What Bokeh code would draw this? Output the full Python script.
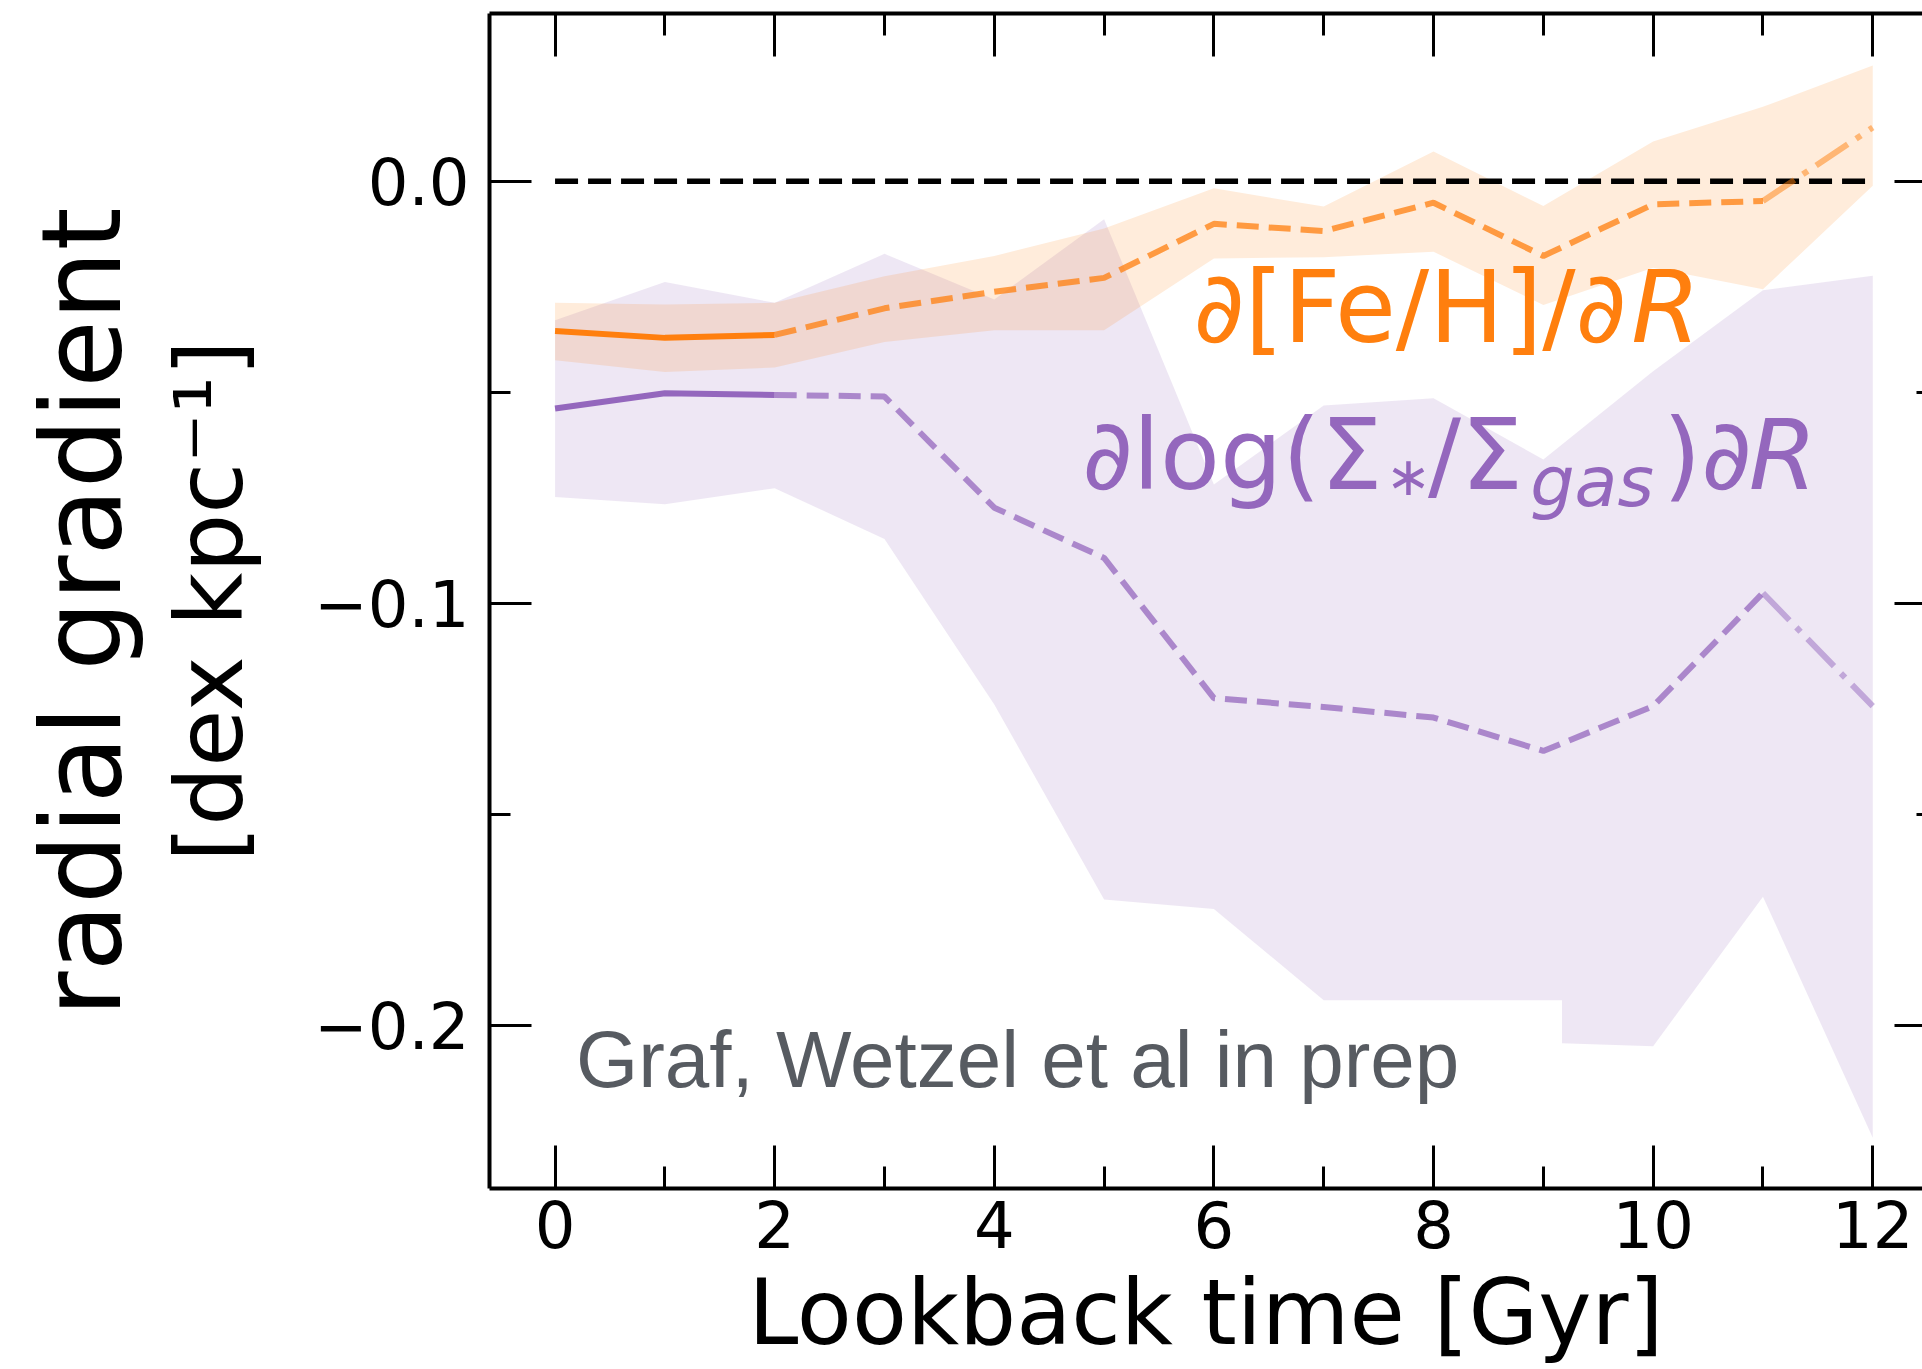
from bokeh.plotting import figure
from bokeh.models import Range1d, LinearAxis, FixedTicker, Label, CustomJSTickFormatter
from bokeh.embed import file_html
from bokeh.resources import INLINE

# ---------------- data ----------------
lookback_gyr = [0, 1, 2, 3, 4, 5, 6, 7, 8, 9, 10, 11, 12]

feh_grad = [-0.0355, -0.0371, -0.0364, -0.0301, -0.0262, -0.0229, -0.0101,
            -0.0118, -0.0051, -0.0177, -0.0055, -0.0047, 0.0127]
feh_grad_hi = [-0.0288, -0.0292, -0.0288, -0.0225, -0.0177, -0.0112, -0.0017,
               -0.0060, 0.0070, -0.0059, 0.0094, 0.0176, 0.0274]
feh_grad_lo = [-0.0424, -0.0452, -0.0441, -0.0381, -0.0353, -0.0353, -0.0183,
               -0.0180, -0.0167, -0.0293, -0.0205, -0.0256, -0.0011]

ratio_grad = [-0.0538, -0.0502, -0.0506, -0.0510, -0.0773, -0.0892, -0.1224,
              -0.1245, -0.1270, -0.1349, -0.1243, -0.0975, -0.1243]
ratio_grad_hi = [-0.0329, -0.0239, -0.0288, -0.0172, -0.0280, -0.0090, -0.0718,
                 -0.0531, -0.0514, -0.0659, -0.0450, -0.0258, -0.0224]
ratio_grad_lo_time = [0, 1, 2, 3, 4, 5, 6, 7, 8, 9.17, 9.17, 10, 11, 12]
ratio_grad_lo = [-0.0748, -0.0765, -0.0727, -0.0847, -0.1239, -0.1701, -0.1723,
                 -0.1939, -0.1939, -0.1939, -0.2041, -0.2048, -0.1694, -0.2265]

x_major_ticks = [0, 2, 4, 6, 8, 10, 12]
x_minor_ticks = [1, 3, 5, 7, 9, 11]
y_major_ticks = [-0.2, -0.1, 0.0]
y_minor_ticks = [-0.15, -0.05]

ORANGE = "#ff7f0e"
PURPLE = "#9467bd"
FONT = "DejaVu Sans"

# ---------------- figure ----------------
p = figure(width=1922, height=1369, output_backend="svg", toolbar_location=None,
           x_range=Range1d(-0.597, 12.453), y_range=Range1d(-0.2385, 0.0397),
           min_border_left=489, min_border_right=0, min_border_top=13,
           min_border_bottom=181)
p.outline_line_color = None
p.xgrid.grid_line_color = None
p.ygrid.grid_line_color = None
p.background_fill_color = "white"
p.border_fill_color = "white"

empty_fmt = CustomJSTickFormatter(code="return '';")
ymin_fmt = CustomJSTickFormatter(
    code="return (tick < -1e-9 ? '\u2212' : '') + Math.abs(tick).toFixed(1);")


def style_ticks(ax, major_in, minor_in):
    ax.major_tick_in = major_in
    ax.major_tick_out = 0
    ax.minor_tick_in = minor_in
    ax.minor_tick_out = 0
    ax.major_tick_line_width = 3
    ax.minor_tick_line_width = 3
    ax.major_tick_line_color = "black"
    ax.minor_tick_line_color = "black"
    ax.axis_line_color = "black"
    ax.major_label_text_color = "black"
    ax.axis_label_text_color = "black"


# bottom axis
xa = p.xaxis[0]
xa.ticker = FixedTicker(ticks=x_major_ticks, minor_ticks=x_minor_ticks)
style_ticks(xa, 43, 22)
xa.axis_line_width = 4
xa.major_label_text_font = FONT
xa.major_label_text_font_size = "64px"
xa.major_label_standoff = 12
xa.axis_label = "Lookback time [Gyr]"
xa.axis_label_text_font = FONT
xa.axis_label_text_font_size = "90px"
xa.axis_label_text_font_style = "normal"
xa.axis_label_standoff = 9

# top axis (ticks only)
ta = LinearAxis(ticker=FixedTicker(ticks=x_major_ticks, minor_ticks=x_minor_ticks),
                formatter=empty_fmt, major_label_standoff=0)
style_ticks(ta, 43, 22)
ta.axis_line_width = 4
p.add_layout(ta, "above")

# left axis
ya = p.yaxis[0]
ya.ticker = FixedTicker(ticks=y_major_ticks, minor_ticks=y_minor_ticks)
ya.formatter = ymin_fmt
style_ticks(ya, 42, 21)
ya.axis_line_width = 4
ya.major_label_text_font = FONT
ya.major_label_text_font_size = "64px"
ya.major_label_standoff = 20
ya.axis_label = "[dex kpc\u207b\u00b9]"
ya.axis_label_text_font = FONT
ya.axis_label_text_font_size = "93px"
ya.axis_label_text_font_style = "normal"
ya.axis_label_standoff = 47

# outer left axis carrying the main y title
oa = LinearAxis(ticker=FixedTicker(ticks=y_major_ticks), formatter=empty_fmt,
                major_label_standoff=0, axis_line_color=None,
                major_tick_in=0, major_tick_out=0, minor_tick_in=0, minor_tick_out=0)
oa.axis_label = "radial gradient\u2009"
oa.axis_label_text_font = FONT
oa.axis_label_text_font_size = "110px"
oa.axis_label_text_font_style = "normal"
oa.axis_label_text_color = "black"
oa.axis_label_standoff = 8
p.add_layout(oa, "left")

# right axis (ticks only)
ra = LinearAxis(ticker=FixedTicker(ticks=y_major_ticks, minor_ticks=y_minor_ticks),
                formatter=empty_fmt, major_label_standoff=0)
style_ticks(ra, 28, 6)
ra.axis_line_color = None
p.add_layout(ra, "right")

# ---------------- bands ----------------
p.patch(x=lookback_gyr + ratio_grad_lo_time[::-1],
        y=ratio_grad_hi + ratio_grad_lo[::-1],
        fill_color=PURPLE, fill_alpha=0.16, line_color=None)
p.varea(x=lookback_gyr, y1=feh_grad_lo, y2=feh_grad_hi,
        fill_color=ORANGE, fill_alpha=0.15)

# zero line
p.line(x=[lookback_gyr[0], lookback_gyr[-1]], y=[0.0, 0.0],
       line_color="black", line_width=5.5, line_dash="23 10")

# ---------------- lines ----------------
for ys, col in ((feh_grad, ORANGE), (ratio_grad, PURPLE)):
    p.line(x=lookback_gyr[0:3], y=ys[0:3], line_color=col, line_width=6)
    p.line(x=lookback_gyr[2:12], y=ys[2:12], line_color=col, line_width=6,
           line_alpha=0.75, line_dash="22 10")
    p.line(x=lookback_gyr[11:13], y=ys[11:13], line_color=col, line_width=6,
           line_alpha=0.5, line_dash="38 10 6 10")

# ---------------- annotations ----------------
def lab(x, y, text, size, color, style="normal", font=FONT):
    p.add_layout(Label(x=x, y=y, text=text, text_font=font, text_font_size=size,
                       text_color=color, text_font_style=style,
                       text_align="left", text_baseline="alphabetic"))


# d[Fe/H]/dR
lab(5.815, -0.0298, "\u2202[Fe/H]/\u2202", "99px", ORANGE)
lab(9.80, -0.0298, "R", "99px", ORANGE, "italic")

# dlog(S*/Sgas)dR
lab(4.80, -0.0648, "\u2202log(\u03a3", "98px", PURPLE)
lab(7.565, -0.0700, "\u2217", "54px", PURPLE)
lab(7.95, -0.0648, "/\u03a3", "98px", PURPLE)
lab(8.88, -0.0712, "gas", "70px", PURPLE, "italic")
lab(10.09, -0.0648, ")\u2202", "98px", PURPLE)
lab(10.87, -0.0648, "R", "98px", PURPLE, "italic")

lab(0.19, -0.2079, "Graf, Wetzel et al in prep", "80px", "#575b61",
    font="Liberation Sans")

open("out.html", "w", encoding="utf-8").write(file_html(p, INLINE))
